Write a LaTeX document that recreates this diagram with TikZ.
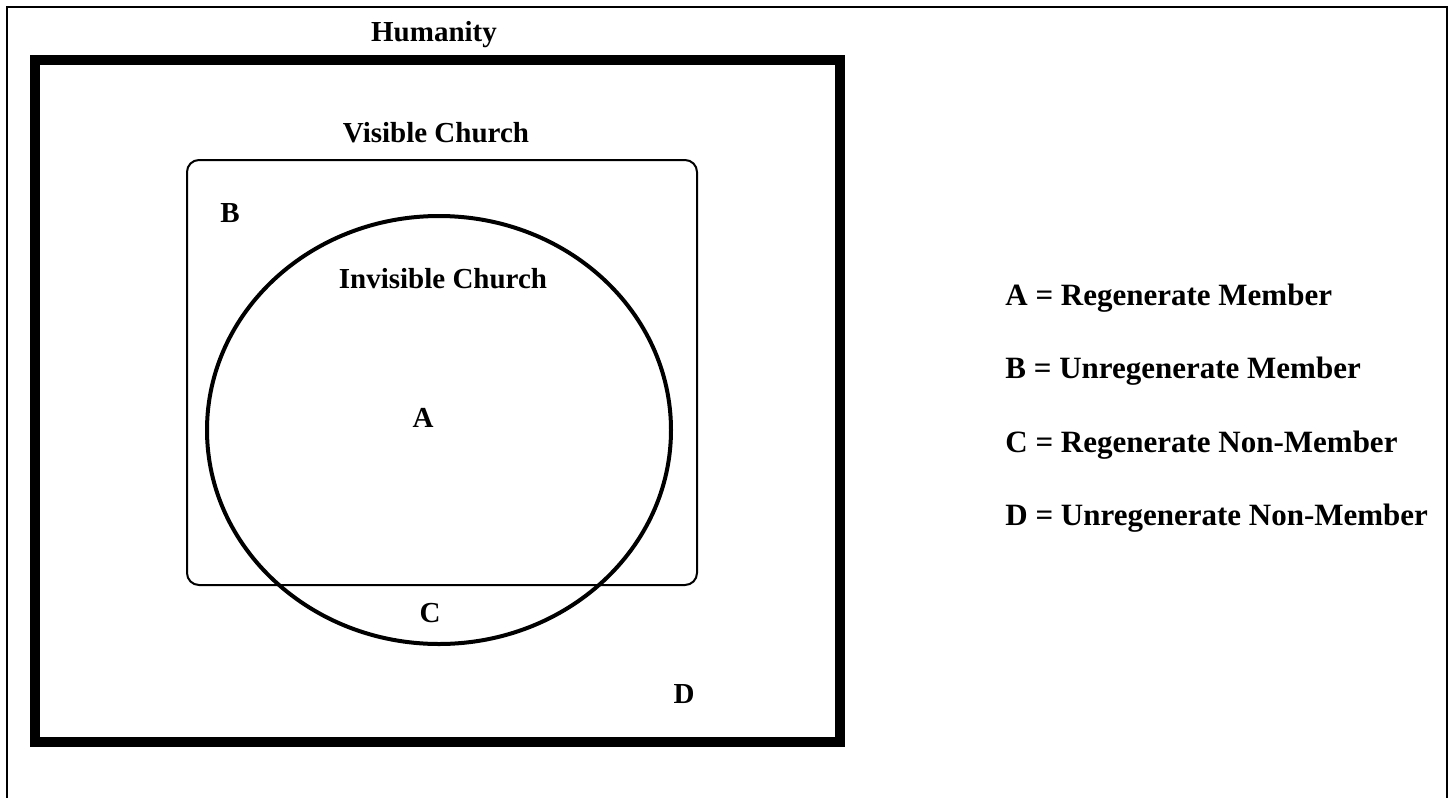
\documentclass[tikz,border=0pt]{standalone}
\usepackage{fontspec}
\setmainfont{Liberation Serif}
\usepackage{tikz}
\usetikzlibrary{positioning}

\begin{document}
\begin{tikzpicture}[x=0.5pt, y=-0.5pt,
  lbl/.style={font=\fontsize{14.5}{17}\selectfont\bfseries, inner sep=0pt, anchor=base},
  key/.style={lbl, anchor=base west, font=\fontsize{15.5}{18}\selectfont\bfseries},
  setline/.style={draw=black, line width=1pt}]
  \useasboundingbox (0,0) rectangle (1452,798);
  % page frame (open at the bottom)
  \draw[line width=1.2pt] (7,798) -- (7,7) -- (1447,7) -- (1447,798);

  % humanity
  \draw[line width=5pt] (35,60) rectangle (840,742);
  \node[lbl] (hum) at (434,41) {Humanity};

  % visible church
  \draw[setline, rounded corners=6pt] (187,160) rectangle (697,585);
  \node[lbl] (vis) at (436,142) {Visible Church};

  % invisible church
  \draw[line width=2pt] (439,430) ellipse (232 and 214);
  \node[lbl] (inv) at (443,288) {Invisible Church};

  % regions
  \node[lbl] (a) at (423,427) {A};
  \node[lbl] (b) at (230,222) {B};
  \node[lbl] (c) at (430,622) {C};
  \node[lbl] (d) at (684,703) {D};

  % key
  \node[key] (ka) at (1005,305) {A = Regenerate Member};
  \node[key] (kb) at (1005,378) {B = Unregenerate Member};
  \node[key] (kc) at (1005,452) {C = Regenerate Non-Member};
  \node[key] (kd) at (1005,525) {D = Unregenerate Non-Member};
\end{tikzpicture}
\end{document}
